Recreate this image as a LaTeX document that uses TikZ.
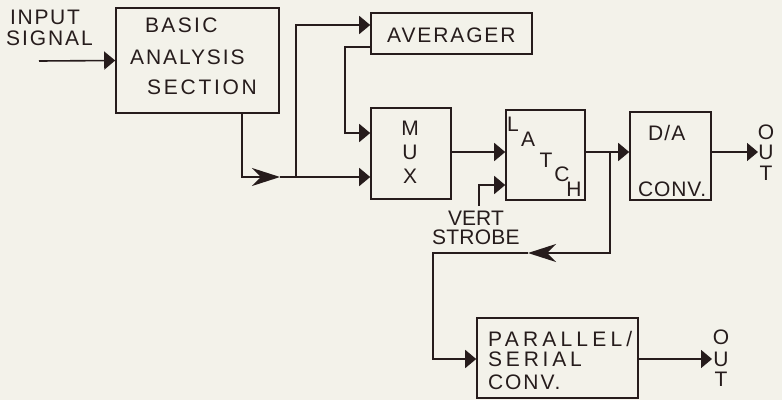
\documentclass[tikz,border=0pt]{standalone}
\usepackage{fontspec}
\setmainfont{Liberation Sans}
\usetikzlibrary{arrows.meta}
\definecolor{paper}{RGB}{243,242,234}
\definecolor{ink}{RGB}{38,28,28}
\newcommand{\lsp}[2]{{\addfontfeatures{LetterSpace=#1}#2}}
\begin{document}
\begin{tikzpicture}[x=1pt,y=-1pt,
  box/.style={draw=ink,line width=1.6pt,rectangle,inner sep=0pt},
  lbl/.style={text=ink,inner sep=0pt,font=\fontsize{21}{24}\selectfont},
  wire/.style={draw=ink,line width=1.6pt},
  arr/.style={wire,-{Triangle[length=11pt,width=18pt]}},
  midarr/.style={wire,-{Stealth[length=28pt,width=18pt,inset=9pt]}}]
\fill[paper] (0,0) rectangle (782,400);
\useasboundingbox (0,0) rectangle (782,400);
% boxes
\node[box,minimum width=163pt,minimum height=105pt] (basic) at (197.5,60.5) {};
\node[box,minimum width=161pt,minimum height=41pt] (aver) at (451.5,33.5) {};
\node[box,minimum width=80pt,minimum height=91pt] (mux) at (411,153.5) {};
\node[box,minimum width=79pt,minimum height=90pt] (latch) at (545.5,155) {};
\node[box,minimum width=81pt,minimum height=88pt] (da) at (670.5,156) {};
\node[box,minimum width=161pt,minimum height=80pt] (ps) at (557.5,358) {};
% texts
\node[lbl,anchor=west] (tin1) at (10,17) {\lsp{8}{INPUT}};
\node[lbl,anchor=west] (tin2) at (6,38) {\lsp{9}{SIGNAL}};
\node[lbl,anchor=west] (tb1) at (145,25) {\lsp{11}{BASIC}};
\node[lbl,anchor=west] (tb2) at (130,57) {\lsp{9}{ANALYSIS}};
\node[lbl,anchor=west] (tb3) at (147,87) {\lsp{13}{SECTION}};
\node[lbl,anchor=west] (tav) at (387,35) {\lsp{9}{AVERAGER}};
\node[lbl] (tm1) at (410,128) {M};
\node[lbl] (tm2) at (410,152) {U};
\node[lbl] (tm3) at (410,176) {X};
\node[lbl] (tl1) at (513,124) {L};
\node[lbl] (tl2) at (528,139) {A};
\node[lbl] (tl3) at (546,160) {T};
\node[lbl] (tl4) at (562,174) {C};
\node[lbl] (tl5) at (574,189) {H};
\node[lbl,anchor=west] (td1) at (648,133) {\lsp{5}{D/A}};
\node[lbl,anchor=west] (td2) at (638,189) {\lsp{4}{CONV.}};
\node[lbl] (to1) at (766,132) {O};
\node[lbl] (to2) at (766,152) {U};
\node[lbl] (to3) at (766,173) {T};
\node[lbl,anchor=west] (tv1) at (448,218) {\lsp{0}{VERT}};
\node[lbl,anchor=west] (tv2) at (432,237) {\lsp{1}{STROBE}};
\node[lbl,anchor=west] (tp1) at (488,339) {\lsp{20}{PARALLEL/}};
\node[lbl,anchor=west] (tp2) at (488,359) {\lsp{18}{SERIAL}};
\node[lbl,anchor=west] (tp3) at (488,382) {\lsp{9}{CONV.}};
\node[lbl] (tq1) at (721,337) {O};
\node[lbl] (tq2) at (721,359) {U};
\node[lbl] (tq3) at (721,379) {T};
% coordinates
\coordinate (in) at (39,61);
\coordinate (j0) at (242,177);
\coordinate (m1) at (280,177);
\coordinate (j1) at (296,177);
\coordinate (ja) at (296,25);
\coordinate (ka) at (345,47);
\coordinate (kb) at (345,133);
\coordinate (jl) at (610,152);
\coordinate (outA) at (758,152);
\coordinate (vs) at (479,206);
\coordinate (vs2) at (479,185);
\coordinate (f1) at (610,253);
\coordinate (m2) at (528,253);
\coordinate (f2) at (433,253);
\coordinate (f3) at (433,359);
\coordinate (outB) at (712,359);
% connectors
\draw[arr] (in) -- (basic.west);
\draw[midarr] (basic.south -| j0) -- (j0) -- (m1);
\draw[wire] (m1) -- (j1);
\draw[arr] (j1) -- (mux.west |- j1);
\draw[arr] (j1) -- (ja) -- (aver.west |- ja);
\draw[arr] (aver.west |- ka) -- (ka) -- (kb) -- (mux.west |- kb);
\draw[arr] (mux.east |- jl) -- (latch.west |- jl);
\draw[arr] (latch.east |- jl) -- (da.west |- jl);
\draw[arr] (da.east |- jl) -- (outA);
\draw[arr] (vs) -- (vs2) -- (latch.west |- vs2);
\draw[midarr] (jl) -- (f1) -- (m2);
\draw[arr] (m2) -- (f2) -- (f3) -- (ps.west |- f3);
\draw[arr] (ps.east |- f3) -- (outB);
\end{tikzpicture}
\end{document}
